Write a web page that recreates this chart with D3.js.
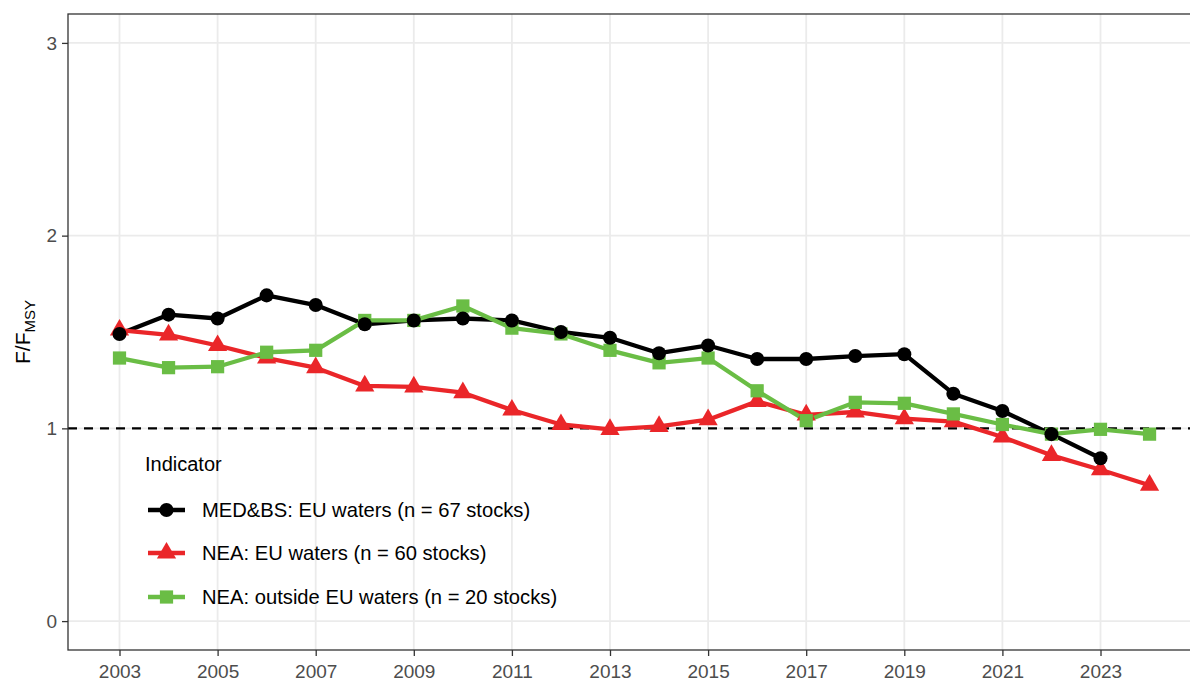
<!DOCTYPE html>
<html>
<head>
<meta charset="utf-8">
<script src="https://cdn.jsdelivr.net/npm/d3@7"></script>
<style>
  html, body { margin: 0; padding: 0; background: #fff; }
  svg { display: block; font-family: "Liberation Sans", Arial, sans-serif; }
</style>
</head>
<body>
<div class="chart-container"></div>
<script>
//! DATA
const years = [2003, 2004, 2005, 2006, 2007, 2008, 2009, 2010, 2011, 2012, 2013,
  2014, 2015, 2016, 2017, 2018, 2019, 2020, 2021, 2022, 2023, 2024];
const medbsEU = [1.49, 1.59, 1.57, 1.69, 1.64, 1.54, 1.56, 1.57, 1.56, 1.50, 1.47,
  1.39, 1.43, 1.36, 1.36, 1.375, 1.385, 1.18, 1.09, 0.97, 0.845, null];
const neaEU = [1.51, 1.485, 1.43, 1.365, 1.315, 1.22, 1.215, 1.185, 1.095, 1.02, 0.995,
  1.01, 1.045, 1.14, 1.07, 1.085, 1.05, 1.035, 0.955, 0.86, 0.785, 0.705];
const neaOutside = [1.365, 1.315, 1.32, 1.395, 1.405, 1.56, 1.56, 1.635, 1.52, 1.49, 1.405,
  1.34, 1.365, 1.195, 1.04, 1.135, 1.13, 1.075, 1.02, 0.97, 0.995, 0.97];
const seriesNames = ['MED&BS: EU waters (n = 67 stocks)', 'NEA: EU waters (n = 60 stocks)',
  'NEA: outside EU waters (n = 20 stocks)'];
const xTicks = [2003, 2005, 2007, 2009, 2011, 2013, 2015, 2017, 2019, 2021, 2023];
const yTicks = [0, 1, 2, 3];
const refLine = 1;

//! CONSTS
const width = 1190;
const height = 681;
const panelLeft = 68;
const panelTop = 14;
const panelBottom = 650;

const series = [
  { name: seriesNames[0], values: medbsEU, color: '#000000', shape: 'circle' },
  { name: seriesNames[1], values: neaEU, color: '#ea2629', shape: 'triangle' },
  { name: seriesNames[2], values: neaOutside, color: '#6abd45', shape: 'square' }
];

const svg = d3.select('.chart-container')
  .append('svg')
  .attr('width', width)
  .attr('height', height);

//! SCALES (ggplot-like 5% expansion)
const xScale = d3.scaleLinear()
  .domain([2003 - 1.05, 2024 + 1.05])
  .range([panelLeft, panelLeft + 23.1 * 49.05]);
const yScale = d3.scaleLinear()
  .domain([-0.15, 3.15])
  .range([panelBottom, panelTop]);

//! GRID
const grid = svg.append('g');
grid.selectAll('.gx').data(xTicks).enter().append('line')
  .attr('x1', d => xScale(d)).attr('x2', d => xScale(d))
  .attr('y1', panelTop).attr('y2', panelBottom)
  .attr('stroke', '#ebebeb').attr('stroke-width', 1.8);
grid.selectAll('.gy').data(yTicks).enter().append('line')
  .attr('x1', panelLeft).attr('x2', width + 20)
  .attr('y1', d => yScale(d)).attr('y2', d => yScale(d))
  .attr('stroke', '#ebebeb').attr('stroke-width', 1.8);

//! REFERENCE LINE
svg.append('line')
  .attr('x1', panelLeft).attr('x2', width + 20)
  .attr('y1', yScale(refLine)).attr('y2', yScale(refLine))
  .attr('stroke', '#000').attr('stroke-width', 2.2)
  .attr('stroke-dasharray', '9,7');

//! MARKERS
const symbolFor = (shape) => {
  if (shape === 'circle') return d3.symbol(d3.symbolCircle, 155)();
  if (shape === 'triangle') return d3.symbol(d3.symbolTriangle, 160)();
  return d3.symbol(d3.symbolSquare, 175)();
};

//! LINES
const line = d3.line()
  .defined(d => d[1] !== null)
  .x(d => xScale(d[0]))
  .y(d => yScale(d[1]));

series.forEach(s => {
  svg.append('path')
    .datum(years.map((y, i) => [y, s.values[i]]))
    .attr('d', line)
    .attr('fill', 'none')
    .attr('stroke', s.color)
    .attr('stroke-width', 4.3)
    .attr('stroke-linejoin', 'round');
});

[series[1], series[2], series[0]].forEach(s => {
  svg.append('g')
    .selectAll('path')
    .data(years.map((y, i) => [y, s.values[i]]).filter(d => d[1] !== null))
    .enter()
    .append('path')
    .attr('d', symbolFor(s.shape))
    .attr('transform', d => `translate(${xScale(d[0])},${yScale(d[1])})`)
    .attr('fill', s.color);
});

//! PANEL BORDER
svg.append('rect')
  .attr('x', panelLeft).attr('y', panelTop)
  .attr('width', xScale.range()[1] - panelLeft).attr('height', panelBottom - panelTop)
  .attr('fill', 'none').attr('stroke', '#333').attr('stroke-width', 1.3);

//! AXES
const xAxis = d3.axisBottom(xScale).tickValues(xTicks).tickFormat(d3.format('d'))
  .tickSize(6).tickPadding(9);
const yAxis = d3.axisLeft(yScale).tickValues(yTicks).tickFormat(d3.format('d'))
  .tickSize(6).tickPadding(5);

const gx = svg.append('g').attr('transform', `translate(0,${panelBottom})`).call(xAxis);
const gy = svg.append('g').attr('transform', `translate(${panelLeft},0)`).call(yAxis);
[gx, gy].forEach(g => {
  g.select('.domain').remove();
  g.selectAll('.tick line').attr('stroke', '#333').attr('stroke-width', 1.3);
  g.selectAll('.tick text').attr('fill', '#4d4d4d').style('font-size', '19px')
    .style('font-family', '"Liberation Sans", Arial, sans-serif');
});

//! Y TITLE
const yTitle = svg.append('text')
  .attr('transform', `translate(30,${(panelTop + panelBottom) / 2}) rotate(-90)`)
  .attr('text-anchor', 'middle')
  .attr('fill', '#000')
  .style('font-size', '21px');
yTitle.append('tspan').text('F/F');
yTitle.append('tspan').attr('dy', 5).style('font-size', '15px').text('MSY');

//! LEGEND
const legend = svg.append('g').attr('transform', 'translate(145,0)');
legend.append('text')
  .attr('x', 0).attr('y', 471)
  .attr('fill', '#000')
  .style('font-size', '20px')
  .text('Indicator');

const legendY = [510, 553, 597];
series.forEach((s, i) => {
  const g = legend.append('g').attr('transform', `translate(0,${legendY[i]})`);
  g.append('line')
    .attr('x1', 3).attr('x2', 40)
    .attr('stroke', s.color).attr('stroke-width', 4.3);
  g.append('path')
    .attr('d', symbolFor(s.shape))
    .attr('transform', 'translate(21.5,0)')
    .attr('fill', s.color);
  g.append('text')
    .attr('x', 57).attr('dy', '0.35em')
    .attr('fill', '#000')
    .style('font-size', '20.2px')
    .text(s.name);
});
</script>
</body>
</html>
